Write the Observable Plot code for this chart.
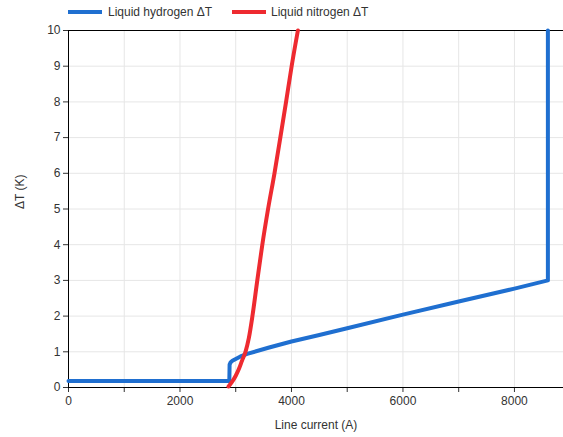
<!DOCTYPE html>
<html>
<head>
<meta charset="utf-8">
<script src="https://cdn.jsdelivr.net/npm/d3@7"></script>
<script src="https://cdn.jsdelivr.net/npm/@observablehq/plot@0.6"></script>
<style>
  body { margin: 0; background: #fff; font-family: "Liberation Sans", Arial, sans-serif; }
  #legend { position: relative; height: 22px; width: 563px; font-size: 12px; color: #333; }
  .sw { position: absolute; top: 10px; height: 4px; width: 34px; }
  .lt { position: absolute; top: 4px; line-height: 16px; white-space: nowrap; }
</style>
</head>
<body>
<div id="legend"></div>
<div id="chart"></div>
<script>
// Data
const seriesNames = ["Liquid hydrogen ΔT", "Liquid nitrogen ΔT"];
const seriesColors = ["#1f6fd0", "#ee2a30"];

const hydrogenCurrent = [0, 2885, 2890, 2910, 2940, 3000, 3085, 3205, 3600, 4000, 4500, 5000, 6000, 7000, 8000, 8600, 8600];
const hydrogenDT      = [0.18, 0.18, 0.64, 0.71, 0.75, 0.8, 0.87, 0.94, 1.12, 1.29, 1.47, 1.66, 2.04, 2.41, 2.77, 3.0, 10];

const nitrogenCurrent = [2870, 2930, 3000, 3060, 3115, 3175, 3235, 3295, 3385, 3475, 3580, 3695, 3800, 3903, 4003, 4115];
const nitrogenDT      = [0.03, 0.15, 0.33, 0.53, 0.76, 1.0, 1.38, 1.95, 2.98, 3.98, 5.0, 6.0, 7.0, 8.0, 9.0, 10];

const xTicks = [0, 1000, 2000, 3000, 4000, 5000, 6000, 7000, 8000];
const xTickLabels = [0, 2000, 4000, 6000, 8000];
const yTicks = [0, 1, 2, 3, 4, 5, 6, 7, 8, 9, 10];
const xTitle = "Line current (A)";
const yTitle = "ΔT (K)";

const hData = hydrogenCurrent.map((x, i) => ({x, y: hydrogenDT[i]}));
const nData = nitrogenCurrent.map((x, i) => ({x, y: nitrogenDT[i]}));

// Legend
const legend = document.getElementById("legend");
const legendPos = [[68, 108], [232, 271]];
seriesNames.forEach((name, i) => {
  const s = document.createElement("div");
  s.className = "sw";
  s.style.left = legendPos[i][0] + "px";
  s.style.background = seriesColors[i];
  legend.appendChild(s);
  const t = document.createElement("div");
  t.className = "lt";
  t.style.left = legendPos[i][1] + "px";
  t.textContent = name;
  legend.appendChild(t);
});

const chart = Plot.plot({
  width: 563,
  height: 415,
  marginTop: 8,
  marginBottom: 50,
  marginLeft: 68,
  marginRight: 0,
  style: {fontFamily: "'Liberation Sans', Arial, sans-serif", fontSize: "12px", color: "#333", background: "#fff"},
  x: {domain: [0, 8880], label: null},
  y: {domain: [0, 10], label: null},
  marks: [
    Plot.gridX(xTicks, {stroke: "#e6e6e6", strokeOpacity: 1, strokeWidth: 1}),
    Plot.gridY(yTicks, {stroke: "#e6e6e6", strokeOpacity: 1, strokeWidth: 1}),
    Plot.axisX(xTicks, {tickSize: 5, tickPadding: 4, stroke: "#333", tickFormat: d => xTickLabels.includes(d) ? String(d) : "", fill: "#333"}),
    Plot.axisY(yTicks, {tickSize: 5, tickPadding: 3, stroke: "#333", tickFormat: d => String(d), fill: "#333"}),
    Plot.ruleY([0, 10], {stroke: "#000", strokeWidth: 1}),
    Plot.ruleX([0], {stroke: "#000", strokeWidth: 1}),
    Plot.line(hData, {x: "x", y: "y", stroke: seriesColors[0], strokeWidth: 4, strokeLinejoin: "round"}),
    Plot.line(nData, {x: "x", y: "y", stroke: seriesColors[1], strokeWidth: 4, strokeLinejoin: "round", curve: "monotone-x"}),
    Plot.text([xTitle], {frameAnchor: "bottom", text: d => d, dy: 38, lineAnchor: "middle", fill: "#333", fontSize: 12}),
    Plot.text([yTitle], {frameAnchor: "left", text: d => d, dx: -48, rotate: -90, lineAnchor: "middle", fill: "#333", fontSize: 12})
  ]
});
document.getElementById("chart").appendChild(chart);
</script>
</body>
</html>
